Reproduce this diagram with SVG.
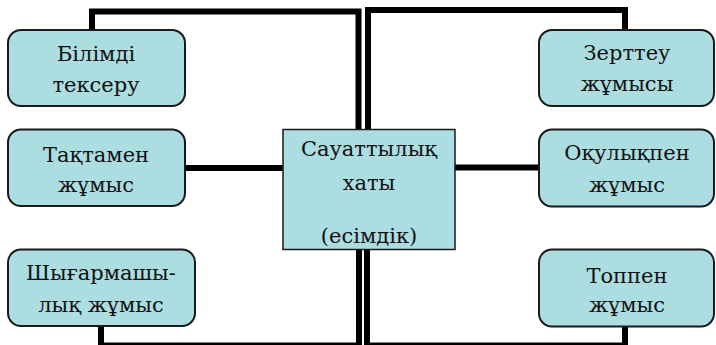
<svg xmlns="http://www.w3.org/2000/svg" width="716" height="345" viewBox="0 0 716 345">
<style>
.box{fill:#acdde1;stroke:#1a1a1a;stroke-width:2}
.ctr{fill:#acdde1;stroke:#1a1a1a;stroke-width:1.5}
.t{font-family:"DejaVu Serif",serif;font-size:21px;fill:#111;text-anchor:middle}
.c{fill:none;stroke:#000;stroke-width:6;stroke-linejoin:miter}
</style>
<g id="connectors">
<path class="c" d="M92,30 V11.5 H358.5 V130"/>
<path class="c" d="M625,30 V10 H368 V130"/>
<path class="c" d="M101,327 V345.5 H359 V249"/>
<path class="c" d="M367,249 V345.5 H625 V327"/>
<path class="c" d="M185,168 H283"/>
<path class="c" d="M455,167.5 H539"/>
</g>
<g id="center">
<rect class="ctr" x="283" y="129.5" width="172" height="120"/>
<text class="t" x="369" y="156">Сауаттылық</text>
<text class="t" x="369" y="190">хаты</text>
<text class="t" x="369" y="243">(есімдік)</text>
</g>
<g id="bilimdi">
<rect class="box" x="8" y="30" width="177" height="76" rx="13"/>
<text class="t" x="96" y="61">Білімді</text>
<text class="t" x="96" y="92">тексеру</text>
</g>
<g id="taktamen">
<rect class="box" x="8" y="129.5" width="177" height="76.5" rx="13"/>
<text class="t" x="96" y="161.5">Тақтамен</text>
<text class="t" x="96" y="191.5">жұмыс</text>
</g>
<g id="shygarmashy">
<rect class="box" x="8" y="249.5" width="187" height="76.5" rx="13"/>
<text class="t" x="101" y="280">Шығармашы-</text>
<text class="t" x="101" y="311.5">лық жұмыс</text>
</g>
<g id="zerttey">
<rect class="box" x="539" y="30" width="175" height="76" rx="13"/>
<text class="t" x="627" y="60">Зерттеу</text>
<text class="t" x="627" y="91">жұмысы</text>
</g>
<g id="okulykpen">
<rect class="box" x="539" y="129.5" width="175" height="77" rx="13"/>
<text class="t" x="627" y="160">Оқулықпен</text>
<text class="t" x="627" y="191.5">жұмыс</text>
</g>
<g id="toppen">
<rect class="box" x="539" y="249.5" width="175" height="77" rx="13"/>
<text class="t" x="627" y="282.5">Топпен</text>
<text class="t" x="627" y="311.5">жұмыс</text>
</g>
</svg>
